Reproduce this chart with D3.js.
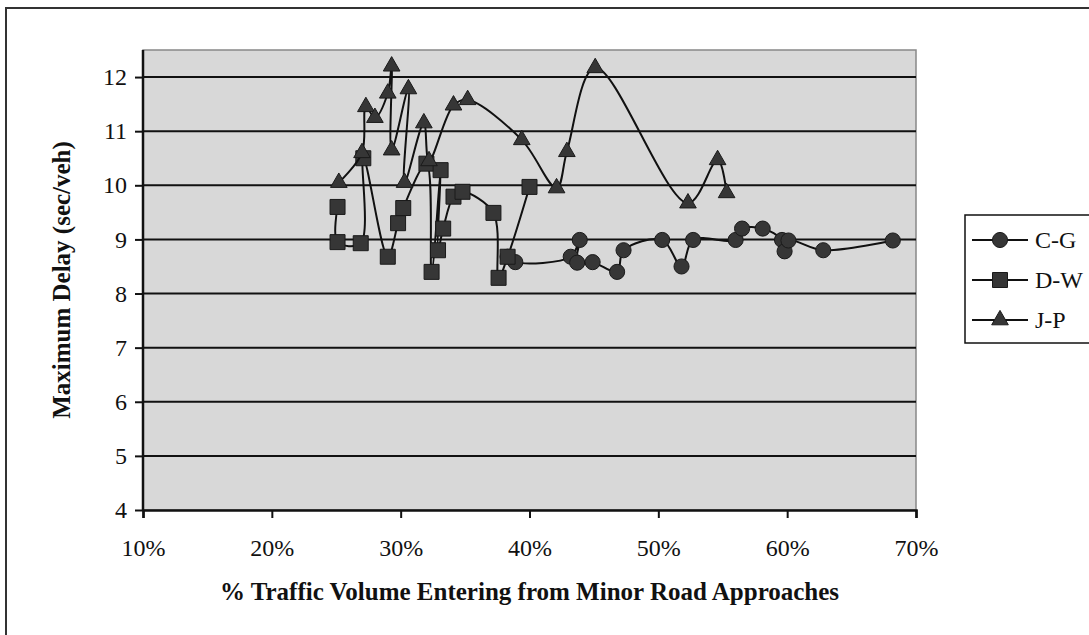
<!DOCTYPE html>
<html>
<head>
<meta charset="utf-8">
<script src="https://cdn.jsdelivr.net/npm/d3@7"></script>
<style>
	body { margin: 0; background: #fff; }
	svg text { font-family: 'Liberation Serif', 'Times New Roman', serif; fill: #111; }
</style>
</head>
<body>
<div id="chart"></div>
<script>
// share of traffic from minor roads (fraction) and max delay (sec/veh), in plotted order
const cgX = [0.383, 0.389, 0.432, 0.439, 0.437, 0.449, 0.468, 0.473, 0.503, 0.518, 0.527, 0.560, 0.565, 0.581, 0.596, 0.598, 0.601, 0.628, 0.682]
const cgY = [8.68, 8.58, 8.68, 8.99, 8.57, 8.58, 8.40, 8.80, 8.99, 8.50, 8.99, 8.99, 9.20, 9.20, 8.99, 8.78, 8.98, 8.80, 8.98]

const dwX = [0.251, 0.251, 0.269, 0.271, 0.290, 0.298, 0.302, 0.320, 0.324, 0.331, 0.329, 0.333, 0.341, 0.348, 0.372, 0.376, 0.383, 0.400]
const dwY = [9.60, 8.95, 8.93, 10.50, 8.68, 9.30, 9.58, 10.40, 8.40, 10.28, 8.80, 9.20, 9.79, 9.88, 9.49, 8.29, 8.68, 9.97]

const jpX = [0.252, 0.270, 0.273, 0.280, 0.290, 0.293, 0.293, 0.306, 0.303, 0.318, 0.322, 0.341, 0.352, 0.394, 0.421, 0.429, 0.451, 0.523, 0.546, 0.553]
const jpY = [10.05, 10.60, 11.45, 11.25, 11.70, 12.20, 10.65, 11.78, 10.05, 11.15, 10.45, 11.48, 11.58, 10.84, 9.95, 10.62, 12.17, 9.67, 10.47, 9.86]

const seriesNames = ['C-G', 'D-W', 'J-P']
const xTicks = [0.1, 0.2, 0.3, 0.4, 0.5, 0.6, 0.7]
const yTicks = [4, 5, 6, 7, 8, 9, 10, 11, 12]

const width = 1089
const height = 635

let series = [
	{ name: seriesNames[0], shape: d3.symbolCircle, size: 180, points: cgX.map((x, i) => [x, cgY[i]]) },
	{ name: seriesNames[1], shape: d3.symbolSquare, size: 225, points: dwX.map((x, i) => [x, dwY[i]]) },
	{ name: seriesNames[2], shape: d3.symbolTriangle, size: 120, points: jpX.map((x, i) => [x, jpY[i]]) }
]

let svg = d3.select('#chart')
	.append('svg')
	.attr('width', width)
	.attr('height', height)

// outer chart frame, runs off the right and bottom of the picture
svg.append('rect')
	.attr('x', 6)
	.attr('y', 8)
	.attr('width', width + 40)
	.attr('height', height + 40)
	.attr('fill', '#fff')
	.attr('stroke', '#333')
	.attr('stroke-width', 2)

let x = d3.scaleLinear().domain([0.1, 0.7]).range([143, 916])
let y = d3.scaleLinear().domain([4, 12.5]).range([510, 50])

// plot area
svg.append('rect')
	.attr('x', x(0.1))
	.attr('y', y(12.5))
	.attr('width', x(0.7) - x(0.1))
	.attr('height', y(4) - y(12.5))
	.attr('fill', '#d8d8d8')
	.attr('stroke', '#888')
	.attr('stroke-width', 1.5)

// gridlines
svg.append('g')
	.selectAll('line')
	.data(yTicks.slice(1))
	.enter()
	.append('line')
		.attr('x1', x(0.1))
		.attr('x2', x(0.7))
		.attr('y1', d => y(d))
		.attr('y2', d => y(d))
		.attr('stroke', '#111')
		.attr('stroke-width', 2)

let xAxis = svg.append('g')
	.attr('transform', 'translate(0,' + y(4) + ')')
	.call(d3.axisBottom(x)
		.tickValues(xTicks)
		.tickFormat(d3.format('.0%'))
		.tickSizeOuter(0)
		.tickSize(8)
		.tickPadding(21))

let yAxis = svg.append('g')
	.attr('transform', 'translate(' + x(0.1) + ',0)')
	.call(d3.axisLeft(y)
		.tickValues(yTicks)
		.tickSizeOuter(0)
		.tickSize(8)
		.tickPadding(8))

;[xAxis, yAxis].forEach(a => {
	a.selectAll('.domain').attr('stroke', '#111').attr('stroke-width', 2.5)
	a.selectAll('.tick line').attr('stroke', '#111').attr('stroke-width', 2)
	a.selectAll('text')
		.attr('font-size', 24)
		.attr('font-family', "'Liberation Serif', serif")
		.attr('fill', '#111')
})
// the left axis should reach the top of the plot area
yAxis.select('.domain').attr('d', 'M0,' + y(4) + 'V' + y(12.5))

// axis titles
svg.append('text')
	.attr('x', (x(0.1) + x(0.7)) / 2)
	.attr('y', 600)
	.attr('text-anchor', 'middle')
	.attr('font-size', 25)
	.attr('font-weight', 'bold')
	.text('% Traffic Volume Entering from Minor Road Approaches')

svg.append('text')
	.attr('transform', 'translate(70,' + (y(4) + y(12.5)) / 2 + ') rotate(-90)')
	.attr('text-anchor', 'middle')
	.attr('font-size', 25)
	.attr('font-weight', 'bold')
	.text('Maximum Delay (sec/veh)')

let line = d3.line()
	.x(d => x(d[0]))
	.y(d => y(d[1]))
	.curve(d3.curveCatmullRom.alpha(0.5))

let seriesG = svg.selectAll('.series')
	.data(series)
	.enter()
		.append('g')
		.attr('class', 'series')

seriesG.append('path')
	.attr('d', d => line(d.points))
	.attr('fill', 'none')
	.attr('stroke', '#111')
	.attr('stroke-width', 2)

seriesG.selectAll('.marker')
	.data(d => d.points.map(p => ({ p: p, s: d })))
	.enter()
	.append('path')
		.attr('class', 'marker')
		.attr('transform', d => `translate(${x(d.p[0])},${y(d.p[1])})`)
		.attr('d', d => d3.symbol().type(d.s.shape).size(d.s.size)())
		.attr('fill', '#363636')
		.attr('stroke', '#1a1a1a')
		.attr('stroke-width', 1)

// legend
let legend = svg.append('g')
	.attr('transform', 'translate(965,215)')

legend.append('rect')
	.attr('width', 160)
	.attr('height', 128)
	.attr('fill', '#fff')
	.attr('stroke', '#111')
	.attr('stroke-width', 1.5)

let item = legend.selectAll('.item')
	.data(series)
	.enter()
	.append('g')
		.attr('class', 'item')
		.attr('transform', (d, i) => 'translate(0,' + (25 + i * 40) + ')')

item.append('line')
	.attr('x1', 7)
	.attr('x2', 63)
	.attr('stroke', '#111')
	.attr('stroke-width', 2)

item.append('path')
	.attr('transform', 'translate(35,0)')
	.attr('d', d => d3.symbol().type(d.shape).size(d.size)())
	.attr('fill', '#363636')
	.attr('stroke', '#1a1a1a')

item.append('text')
	.attr('x', 70)
	.attr('dy', '0.35em')
	.attr('font-size', 24)
	.text(d => d.name)
</script>
</body>
</html>
